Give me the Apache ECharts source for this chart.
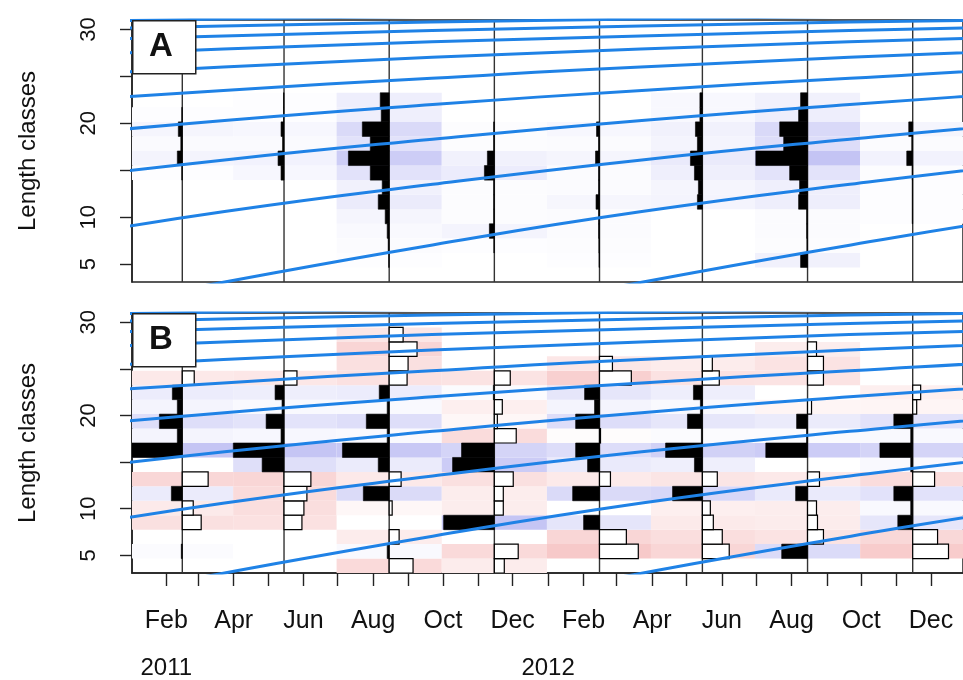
<!DOCTYPE html>
<html><head><meta charset="utf-8">
<script src="https://cdn.jsdelivr.net/npm/echarts@6/dist/echarts.min.js"></script>
<style>html,body{margin:0;padding:0;background:#fff}#c{width:963px;height:680px}</style>
</head><body><div id="c"></div>
<script>
// ---------- data ----------
const sampleDates = ['2011-02-15','2011-05-15','2011-08-15','2011-11-15','2012-02-15','2012-05-15','2012-08-15','2012-11-15'];
// length class mid points (bins of equal width)
const lengthClasses = [3.875,5.425,6.975,8.525,10.075,11.625,13.175,14.725,16.275,17.825,19.375,20.925,22.475,24.025,25.575,27.125,28.675,30.225];

// Panel A: raw frequencies per sample (bins low -> high)
const rawFeb2011 = [0,0,0,0,0,0,0,0.5,5,1.5,4,0.5,0,0,0,0,0,0];
const rawMay2011 = [0,0,0,0,0,0,0,3,6,1.5,3,0.5,0.5,0,0,0,0,0];
const rawAug2011 = [0,0.5,1,2,4,11,7,19,41,19,27,8,9,0,0,0,0,0];
const rawNov2011 = [0,0,0.5,5,0.7,0.7,0.7,10,7,0.7,0.7,0,0,0,0,0,0,0];
const rawFeb2012 = [0,0.5,0.7,1,1,3.5,1,1,4,1,3,0,0,0,0,0,0,0];
const rawMay2012 = [0,0,0,0,0,5,4,8,12,5,7,2.5,2.5,0,0,0,0,0];
const rawAug2012 = [0,7,0.7,1,1,9,8,18,52,24,28,9,7,0,0,0,0,0];
const rawNov2012 = [0,0,0,0,0.5,0.5,0.5,0.7,6,1,4,0,0,0,0,0,0,0];

// Panel B: restructured scores per sample
const rsFeb2011 = [0,1,0,-19,-11,11,-26,0,51,5,23,5,10,-12,0,0,0,0];
const rsMay2011 = [0,0,0,-18,-20,-23,-27,22,51,3,18,2,9,-13,0,0,0,0];
const rsAug2011 = [-24,2,-10,0,-3,26,-12,11,47,2,23,2,10,-18,-19,-28,-14,0];
const rsNov2011 = [-10,-24,0,51,-9,-9,-19,42,33,-22,-3,-8,1,-16,0,0,0,0];
const rsFeb2012 = [0,-39,-27,16,0,27,-11,12,24,-1,24,5,15,-32,-13,0,0,0];
const rsMay2012 = [0,-27,-20,-11,-8,30,-15,8,37,1,15,2,9,-17,-10,0,0,0];
const rsAug2012 = [0,26,-16,-10,-9,12,-12,0,42,1,11,-4,0,-16,-16,-9,0,0];
const rsNov2012 = [0,-36,-25,15,2,19,-22,2,33,2,19,-4,-8,0,0,0,0,0];

// growth curve: age (days since entering the plot) -> length
const growthAgeDays = [-365,-182,0,182,365,547,730,912,1095,1277,1460,1642,1825,2190,2555,2920,3285,3650,4015,4380];
const growthLength  = [-6.0,-1.1,3.1,7.05,10.6,13.5,16.1,18.3,20.3,22.0,23.5,24.8,26.0,27.9,29.3,30.35,31.1,31.6,31.9,32.1];
const cohortStarts = ['2000-03-24','2001-03-24','2002-03-24','2003-03-24','2004-03-24','2005-03-24','2006-03-24','2007-03-24','2008-03-24','2009-03-24','2010-03-24','2011-03-24','2012-03-24'];

// axis ticks / labels
const monthTicks = ['2011-02-01','2011-03-01','2011-04-01','2011-05-01','2011-06-01','2011-07-01','2011-08-01','2011-09-01','2011-10-01','2011-11-01','2011-12-01','2012-01-01','2012-02-01','2012-03-01','2012-04-01','2012-05-01','2012-06-01','2012-07-01','2012-08-01','2012-09-01','2012-10-01','2012-11-01','2012-12-01'];
const monthLabelDates = ['2011-02-01','2011-04-01','2011-06-01','2011-08-01','2011-10-01','2011-12-01','2012-02-01','2012-04-01','2012-06-01','2012-08-01','2012-10-01','2012-12-01'];
const monthLabels = ['Feb','Apr','Jun','Aug','Oct','Dec','Feb','Apr','Jun','Aug','Oct','Dec'];
const yearLabelDates = ['2011-02-01','2012-01-01'];
const yearLabels = ['2011','2012'];
const yTicks = [5,10,15,20,25,30];
const yLabels = [5,10,20,30];

// ---------- build ----------
const DAY = 86400000;
const ts = s => { const [y,m,d] = s.split('-').map(Number); return Date.UTC(y,m-1,d); };
const sampleTs = sampleDates.map(ts);
const rawA = [rawFeb2011,rawMay2011,rawAug2011,rawNov2011,rawFeb2012,rawMay2012,rawAug2012,rawNov2012];
const rsB = [rsFeb2011,rsMay2011,rsAug2011,rsNov2011,rsFeb2012,rsMay2012,rsAug2012,rsNov2012];
const halfBin = (lengthClasses[1]-lengthClasses[0])/2;
const X_MIN = ts('2011-01-02'), X_MAX = ts('2012-12-29');
const Y_MIN = 3.1, Y_MAX = 31;
const BAR_DAYS_PER_UNIT = 0.87;
const FONT = 'Liberation Sans, Arial, Helvetica, sans-serif';

const cellEdges = sampleTs.map((d,i) => {
  const prev = i>0 ? sampleTs[i-1] : d - (sampleTs[1]-sampleTs[0]);
  const next = i<sampleTs.length-1 ? sampleTs[i+1] : d + (d - sampleTs[i-1]);
  return [(prev+d)/2, (d+next)/2];
});

function buildData(sets){
  const out = [];
  sets.forEach((arr,i) => arr.forEach((v,k) => out.push([sampleTs[i], lengthClasses[k], v, i, k])));
  return out;
}
const dataA = buildData(rawA), dataB = buildData(rsB);

function mix(c, t){ return 'rgb(' + c.map(x => Math.round(255 + (x-255)*t)).join(',') + ')'; }
function heatColor(v){
  if (v > 0) return mix([196,196,244], Math.pow(Math.min(v/52,1), 0.7));
  return mix([247,200,200], Math.pow(Math.min(-v/40,1), 0.75));
}

function heatRender(params, api){
  const v = api.value(2); if (!v) return null;
  const i = api.value(3), mid = api.value(1);
  const p0 = api.coord([cellEdges[i][0], mid + halfBin]);
  const p1 = api.coord([cellEdges[i][1], mid - halfBin]);
  return {type:'rect', shape:{x:p0[0], y:p0[1], width:p1[0]-p0[0], height:p1[1]-p0[1]},
          style:{fill:heatColor(v)}};
}
function barRender(params, api){
  const v = api.value(2); if (!v) return null;
  const d = api.value(0), mid = api.value(1);
  const p0 = api.coord([d, mid + halfBin]);
  const p1 = api.coord([d - v*BAR_DAYS_PER_UNIT*DAY, mid - halfBin]);
  const x = Math.min(p0[0], p1[0]), w = Math.abs(p1[0]-p0[0]);
  return {type:'rect', shape:{x:x, y:p0[1], width:w, height:p1[1]-p0[1]},
          style:{fill: v>0 ? '#000' : '#fff', stroke:'#000', lineWidth: v>0 ? 0.6 : 1.2}};
}
function sampleLineRender(params, api){
  const d = api.value(0);
  const a = api.coord([d, Y_MAX]), b = api.coord([d, Y_MIN]);
  return {type:'line', shape:{x1:a[0], y1:a[1], x2:b[0], y2:b[1]}, style:{stroke:'#333', lineWidth:1.4}};
}

const series = [];
[0,1].forEach(g => {
  const data = g===0 ? dataA : dataB;
  series.push({type:'custom', xAxisIndex:g===0?0:1, yAxisIndex:g, coordinateSystem:'cartesian2d', clip:true,
    renderItem:heatRender, data:data, z:1, silent:true});
  series.push({type:'custom', xAxisIndex:g===0?0:1, yAxisIndex:g, coordinateSystem:'cartesian2d', clip:true,
    renderItem:sampleLineRender, data:sampleTs.map(d=>[d, Y_MIN]), z:2, silent:true});
  series.push({type:'custom', xAxisIndex:g===0?0:1, yAxisIndex:g, coordinateSystem:'cartesian2d', clip:true,
    renderItem:barRender, data:data, z:3, silent:true});
  cohortStarts.forEach(c => {
    const b = ts(c);
    series.push({type:'line', xAxisIndex:g===0?0:1, yAxisIndex:g, clip:true, smooth:0.5,
      showSymbol:false, silent:true, z:4,
      lineStyle:{color:'#1f82e6', width:3},
      data: growthAgeDays.map((a,j) => [b + a*DAY, growthLength[j]])});
  });
});

const gridA = {left:132, top:20, width:835, height:262, show:true, borderColor:'#222', borderWidth:1.5};
const gridB = {left:132, top:313, width:835, height:260, show:true, borderColor:'#222', borderWidth:1.5};

function yAxis(g){
  return {gridIndex:g, type:'value', min:Y_MIN, max:Y_MAX,
    axisLine:{show:true, lineStyle:{color:'#222', width:1.5}},
    axisTick:{show:true, inside:false, length:12, customValues:yTicks, lineStyle:{color:'#222', width:1.4}},
    axisLabel:{show:true, customValues:yLabels, rotate:90, margin:32, fontSize:22, color:'#111', fontFamily:FONT},
    splitLine:{show:false},
    name:'Length classes', nameLocation:'middle', nameRotate:90, nameGap:92,
    nameTextStyle:{fontSize:24, color:'#111', fontFamily:FONT}};
}
const monthTs = monthLabelDates.map(ts), yearTs = yearLabelDates.map(ts);
const xAxes = [
  {gridIndex:0, type:'value', min:X_MIN, max:X_MAX, show:false, splitLine:{show:false}},
  {gridIndex:1, type:'value', min:X_MIN, max:X_MAX, position:'bottom',
    axisLine:{show:true, lineStyle:{color:'#222', width:1.5}},
    axisTick:{show:true, inside:false, length:13, customValues:monthTicks.map(ts), lineStyle:{color:'#222', width:1.4}},
    axisLabel:{show:true, customValues:monthTs, margin:36, fontSize:25, color:'#111', fontFamily:FONT,
      formatter: v => { const i = monthTs.indexOf(v); return i>=0 ? monthLabels[i] : ''; }},
    splitLine:{show:false}},
  {gridIndex:1, type:'value', min:X_MIN, max:X_MAX, position:'bottom',
    axisLine:{show:false}, axisTick:{show:false},
    axisLabel:{show:true, customValues:yearTs, margin:83, fontSize:24, color:'#111', fontFamily:FONT,
      formatter: v => { const i = yearTs.indexOf(v); return i>=0 ? yearLabels[i] : ''; }},
    splitLine:{show:false}}
];

function panelTag(letter, top){
  return [
    {type:'rect', left:132, top:top, z:100, zlevel:1,
      shape:{width:63, height:53}, style:{fill:'#fff', stroke:'#222', lineWidth:1.5}},
    {type:'text', left:149, top:top+10, z:101, zlevel:1,
      style:{text:letter, font:'bold 33px "Liberation Sans", Arial, sans-serif', fill:'#111'}}
  ];
}

const chart = echarts.init(document.getElementById('c'), null, {renderer:'canvas'});
chart.setOption({
  animation:false,
  backgroundColor:'#fff',
  grid:[gridA, gridB],
  xAxis:xAxes,
  yAxis:[yAxis(0), yAxis(1)],
  series:series,
  graphic:[].concat(panelTag('A', 20), panelTag('B', 313))
});
</script></body></html>
